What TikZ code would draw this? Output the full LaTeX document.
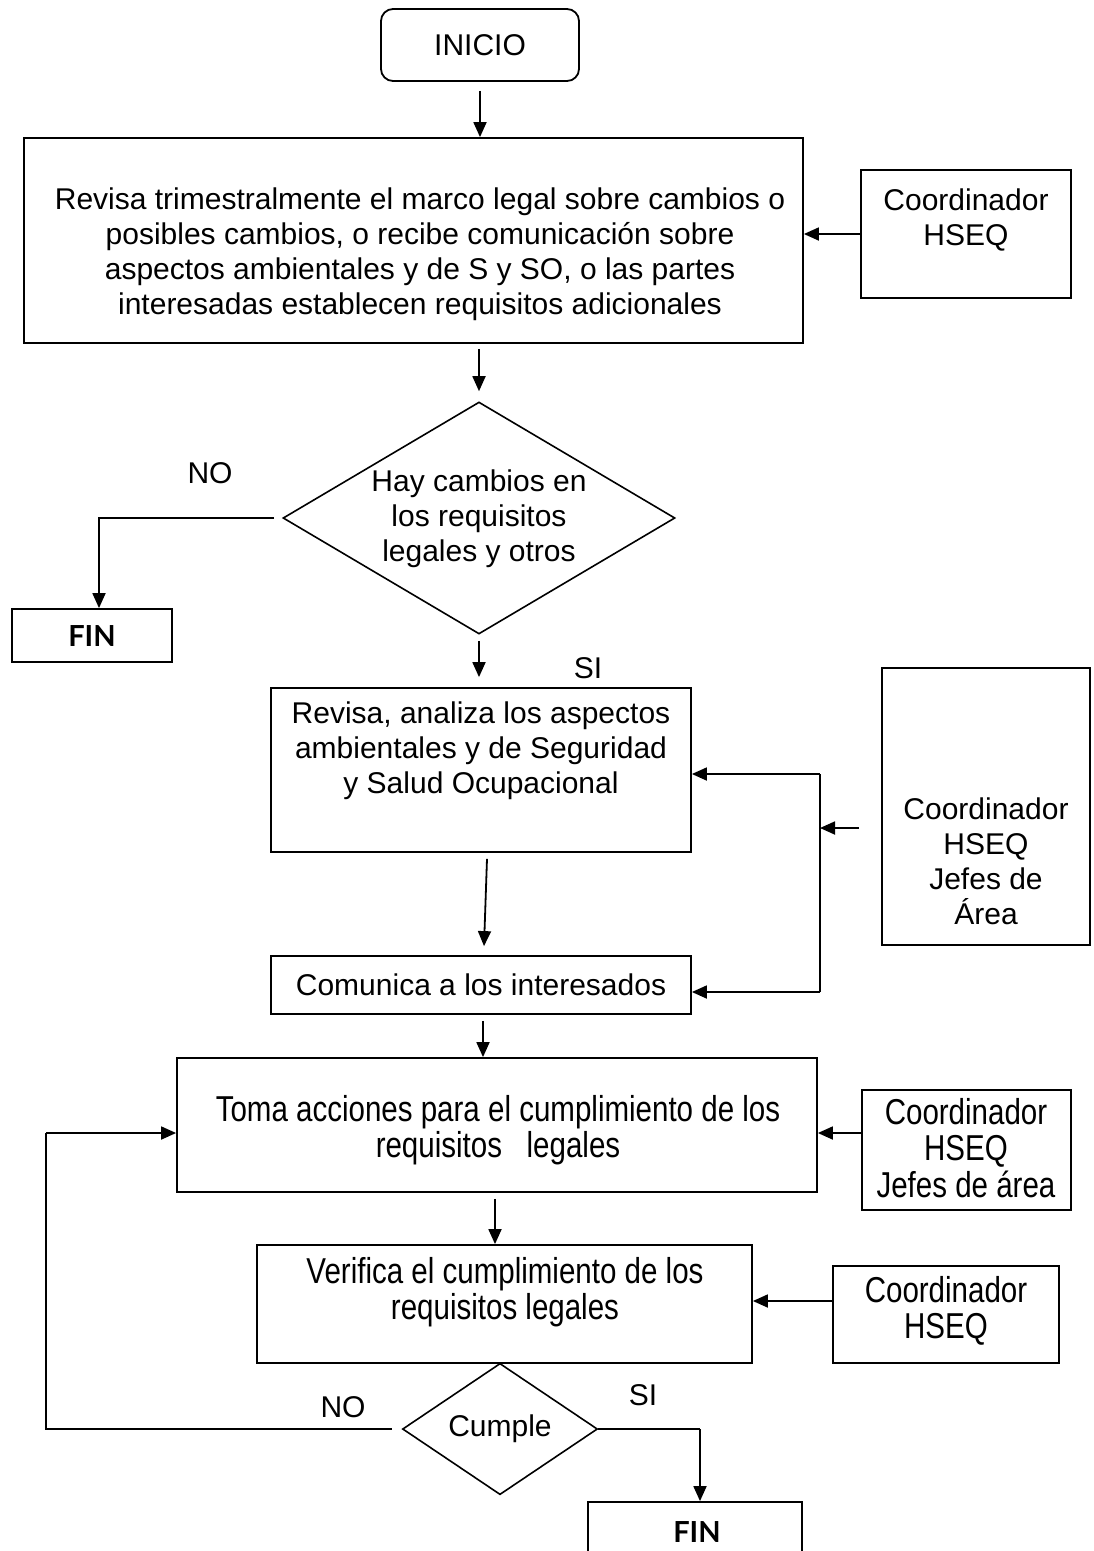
\documentclass[tikz,border=0pt]{standalone}
\usepackage{fontspec}
\setmainfont{Liberation Sans}
\newfontfamily\narrowfont[FakeStretch=0.82]{Liberation Sans}
\newfontfamily\finfont{Lato}
\usetikzlibrary{arrows.meta,shapes.geometric,calc}
\begin{document}
\begin{tikzpicture}[x=1pt,y=-1pt,
  every node/.style={font=\fontsize{30}{35}\selectfont},
  box/.style={draw,line width=1.8pt,inner sep=0pt},
  txt/.style={align=center,inner sep=0pt},
  ntxt/.style={align=center,inner sep=0pt,font=\narrowfont\fontsize{36}{36.5}\selectfont},
  fintxt/.style={inner sep=0pt,font=\finfont\bfseries\fontsize{29}{30}\selectfont},
  ln/.style={line width=1.8pt},
  arr/.style={line width=1.8pt,-{Triangle[length=15pt,width=13pt]}},
  dec/.style={draw,diamond,line width=1.6pt,inner sep=0pt}]
\useasboundingbox (0,0) rectangle (1094,1551);

% start
\node[box,rounded corners=12pt,minimum width=198pt,minimum height=72pt] (ini) at (480,45) {INICIO};

% legal review
\node[box,minimum width=779pt,minimum height=205pt] (b1) at (413.5,240.5) {};
\node[txt] at (420,254) {Revisa trimestralmente el marco legal sobre cambios o\\posibles cambios, o recibe comunicación sobre\\aspectos ambientales y de S y SO, o las partes\\interesadas establecen requisitos adicionales};
\node[box,minimum width=210pt,minimum height=128pt] (c1) at (966,234) {};
\node[txt] at (966,220) {Coordinador\\HSEQ};

% first decision
\node[dec,minimum width=392pt,minimum height=232pt] (d1) at (479,518) {};
\node[txt] at (479,519) {Hay cambios en\\los requisitos\\legales y otros};
\node[txt] (no1) at (210,473) {NO};
\node[box,minimum width=160pt,minimum height=53pt] (fin1) at (92,635.5) {};
\node[fintxt] at (92,636) {FIN};
\coordinate (k1) at (99,518);

% analysis and communication
\node[txt] (si1) at (588,668) {SI};
\node[box,minimum width=420pt,minimum height=164pt] (rev) at (481,770) {};
\node[txt] at (481,751) {Revisa, analiza los aspectos\\ambientales y de Seguridad\\y Salud Ocupacional};
\node[box,minimum width=420pt,minimum height=58pt] (com) at (481,985) {Comunica a los interesados};
\node[box,minimum width=208pt,minimum height=277pt] (c2) at (986,806.5) {};
\node[txt] at (986,861) {Coordinador\\HSEQ\\Jefes de\\Área};
\coordinate (bt) at (820,774);
\coordinate (bb) at (820,992);
\coordinate (bi) at (820,828);

% actions and verification
\node[box,minimum width=640pt,minimum height=134pt] (toma) at (497,1125) {};
\node[ntxt] at (498,1130) {Toma acciones para el cumplimiento de los\\requisitos\ \ \ legales};
\node[box,minimum width=209pt,minimum height=120pt] (c3) at (966.5,1150) {};
\node[ntxt] at (966,1148) {Coordinador\\HSEQ\\Jefes de área};
\node[box,minimum width=495pt,minimum height=118pt] (ver) at (504.5,1304) {};
\node[ntxt] at (505,1292) {Verifica el cumplimiento de los\\requisitos legales};
\node[box,minimum width=226pt,minimum height=97pt] (c4) at (946,1314.5) {};
\node[ntxt] at (946,1311) {Coordinador\\HSEQ};

% second decision
\node[dec,minimum width=195pt,minimum height=130pt] (d2) at (500,1429) {Cumple};
\node[txt] (no2) at (343,1407) {NO};
\node[txt] (si2) at (643,1395) {SI};
\node[box,minimum width=214pt,minimum height=70pt] (fin2) at (695,1537) {};
\node[fintxt] at (697,1532) {FIN};
\coordinate (k2) at (700,1429);
\coordinate (k3) at (46,1429);
\coordinate (k4) at (46,1133);

% connectors
\draw[arr,shorten <=9pt] (ini.south) -- (ini.south |- b1.north);
\draw[arr] (c1.west) -- (b1.east |- c1.west);
\draw[arr,shorten <=5pt,shorten >=10pt] (b1.south -| d1.north) -- (d1.north);
\draw[arr,shorten <=8pt] (d1.west) -- (k1) -- (k1 |- fin1.north);
\draw[arr,shorten <=6pt,shorten >=10pt] (d1.south) -- (d1.south |- rev.north);
\draw[arr] ([xshift=6pt,yshift=-6pt]rev.south) -- ([xshift=3pt,yshift=9pt]com.north);
\draw[ln] (bt) -- (bb);
\draw[arr] (bt) -- (bt -| rev.east);
\draw[arr] (bb) -- (bb -| com.east);
\draw[arr,shorten <=22pt] (c2.west |- bi) -- (bi);
\draw[arr,shorten <=6pt] (com.south -| 483,0) -- (toma.north -| 483,0);
\draw[arr] (c3.west |- 0,1133) -- (toma.east |- 0,1133);
\draw[arr,shorten <=6pt] (toma.south -| 495,0) -- (ver.north -| 495,0);
\draw[arr] (c4.west |- 0,1301) -- (ver.east |- 0,1301);
\draw[ln,shorten <=10pt] (d2.west) -- (k3) -- (k4);
\draw[arr] (k4) -- (k4 -| toma.west);
\draw[ln] (d2.east) -- (k2);
\draw[arr] (k2) -- (k2 |- fin2.north);
\end{tikzpicture}
\end{document}
